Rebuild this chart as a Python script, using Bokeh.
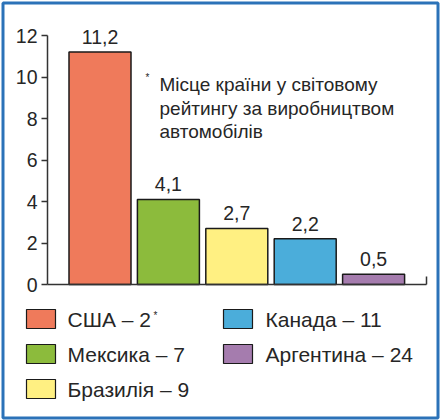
from bokeh.plotting import figure
from bokeh.models import Range1d, LinearAxis, FixedTicker, ColumnDataSource
from bokeh.core.properties import value
from bokeh.embed import file_html
from bokeh.resources import INLINE

# ---- data ----
countries = ["США", "Мексика", "Бразилія", "Канада", "Аргентина"]
production = [11.2, 4.1, 2.7, 2.2, 0.5]
ranks = [2, 7, 9, 11, 24]
colors = ["#EF7A5B", "#8CBB3C", "#FFF082", "#4BADDA", "#A57CAE"]
y_ticks = [0, 2, 4, 6, 8, 10, 12]
note_lines = ["Місце країни у світовому", "рейтингу за виробництвом", "автомобілів"]

FONT = "Liberation Sans"
TXT = "#262626"

# ---- layout helpers (pixel -> data) ----
X0, DX = 99.5, 68.4
Y0, DY = 284.0, 20.75
def px(v):
    return (v - X0) / DX
def py(v):
    return (Y0 - v) / DY

W, H = 440, 420
p = figure(width=W, height=H, output_backend="svg", toolbar_location=None,
           x_range=Range1d(px(0), px(W)), y_range=Range1d(py(H), py(0)),
           x_axis_location=None, y_axis_location=None, min_border=0)
p.grid.visible = False
p.outline_line_color = None
p.background_fill_color = "white"
p.border_fill_color = "white"

# y axis
yax = LinearAxis(fixed_location=px(47), bounds=(0, 12), ticker=FixedTicker(ticks=y_ticks))
yax.axis_line_color = "#333333"
yax.axis_line_width = 1.5
yax.major_tick_line_color = "#333333"
yax.major_tick_line_width = 1.5
yax.major_tick_out = 6
yax.major_tick_in = 0
yax.minor_tick_out = 0
yax.minor_tick_in = 0
yax.major_label_standoff = 4
yax.major_label_text_font = FONT
yax.major_label_text_font_size = "19.5px"
yax.major_label_text_color = TXT
p.add_layout(yax, "left")

# x axis (baseline with end tick)
xax = LinearAxis(fixed_location=0, bounds=(px(47), px(425.5)),
                 ticker=FixedTicker(ticks=[px(425.5)]))
xax.axis_line_color = "#333333"
xax.axis_line_width = 1.5
xax.major_tick_line_color = "#333333"
xax.major_tick_line_width = 1.5
xax.major_tick_in = 8
xax.major_tick_out = 0
xax.minor_tick_out = 0
xax.minor_tick_in = 0
xax.major_label_text_color = None
p.add_layout(xax, "below")

idx = list(range(len(countries)))
labels = [f"{v}".replace(".", ",") for v in production]
src = ColumnDataSource(dict(x=idx, top=production, color=colors, label=labels))

p.vbar(x="x", top="top", width=62 / DX, bottom=0, source=src,
       fill_color="color", line_color="#1a1a1a", line_width=1.5)
p.text(x="x", y="top", text="label", source=src, y_offset=-15,
       text_align="center", text_baseline="alphabetic",
       text_font=value(FONT), text_font_size="19.5px", text_color=TXT)

# note
p.text(x=[px(147)], y=[py(82)], text=["*"], text_font=value(FONT),
       text_font_size="10px", text_align="center", text_color=TXT)
p.text(x=[px(159)] * 3, y=[py(84), py(107.5), py(131)], text=note_lines,
       text_font=value(FONT), text_font_size="19px", text_baseline="alphabetic",
       text_color=TXT)

# legend (two columns: 3 + 2)
col_sq = [40.5, 237.5]
col_tx = [67, 265]
row_y = [318.5, 353.5, 388.5]
lx, ly, tx, lab = [], [], [], []
for i, (c, r) in enumerate(zip(countries, ranks)):
    col, row = (0, i) if i < 3 else (1, i - 3)
    lx.append(px(col_sq[col]))
    ly.append(py(row_y[row]))
    tx.append(px(col_tx[col]))
    lab.append(f"{c} – {r}")
p.rect(x=lx, y=ly, width=29 / DX, height=19 / DY, fill_color=colors,
       line_color="#1a1a1a", line_width=1.2)
p.text(x=tx, y=ly, text=lab, text_font=value(FONT), text_font_size="21px",
       text_baseline="middle", text_color=TXT)
p.text(x=[px(155)], y=[py(320)], text=["*"], text_font=value(FONT),
       text_font_size="10px", text_align="center", text_color=TXT)

# frame border
p.quad(left=px(2.5), right=px(437.5), top=py(2.5), bottom=py(417.5),
       fill_color=None, line_color="#2B72B8", line_width=3)

open("out.html", "w").write(file_html(p, INLINE))
